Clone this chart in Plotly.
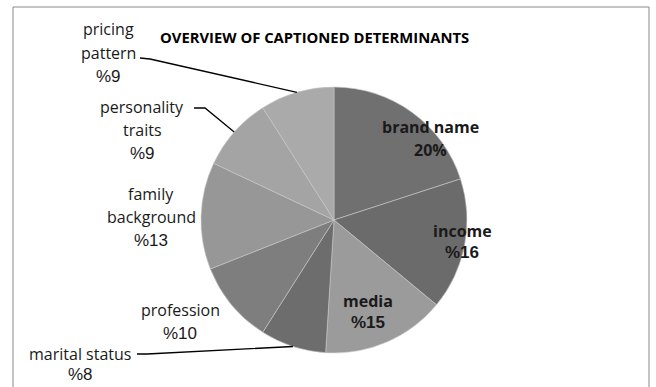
import math
import plotly.graph_objects as go

# ---- data -------------------------------------------------------------
categories = ["brand name", "income", "media", "marital status", "profession",
              "family background", "personality traits", "pricing pattern"]
shares = [20, 16, 15, 8, 10, 13, 9, 9]
# how each category name is wrapped on its label
label_lines = [["brand name"], ["income"], ["media"], ["marital status"], ["profession"],
               ["family", "background"], ["personality", "traits"], ["pricing", "pattern"]]
# the first label writes the percent sign after the number, the rest before it
percent_after = [True, False, False, False, False, False, False, False]
slice_colors = ["#707070", "#6b6b6b", "#9b9b9b", "#6d6d6d", "#7e7e7e",
                "#979797", "#a4a4a4", "#aaaaaa"]
title_text = "OVERVIEW OF CAPTIONED DETERMINANTS"

# ---- geometry (pixels, y pointing down) --------------------------------
W, H = 656, 387
PIE_CX, PIE_CY, PIE_R = 334, 220, 133

# label anchor: centre of first line, line step, bold/inside, leader path start
label_style = {
    "brand name":         dict(x=430, y=127, step=23, bold=True),
    "income":             dict(x=462, y=231, step=21, bold=True),
    "media":              dict(x=368, y=301, step=21, bold=True),
    "marital status":     dict(x=80, y=354, step=20, bold=False, lead=[(137, 354), (147, 354)]),
    "profession":         dict(x=180, y=310, step=23, bold=False),
    "family background":  dict(x=151, y=194, step=23, bold=False),
    "personality traits": dict(x=142, y=107, step=23, bold=False, lead=[(194, 108), (205, 108)]),
    "pricing pattern":    dict(x=108, y=29, step=23.5, bold=False, lead=[(140, 58), (150, 59)]),
}

LABEL_FONT = "Open Sans"
NUMBER_FONT = "Liberation Sans"

fig = go.Figure()

fig.add_trace(go.Pie(
    labels=categories,
    values=shares,
    sort=False,
    direction="clockwise",
    rotation=0,
    textinfo="none",
    hoverinfo="label+percent",
    marker=dict(colors=slice_colors, line=dict(color="#c8c8c8", width=0.6)),
    showlegend=False,
    domain=dict(x=[(PIE_CX - PIE_R) / W, (PIE_CX + PIE_R) / W],
                y=[(H - PIE_CY - PIE_R) / H, (H - PIE_CY + PIE_R) / H]),
))

total = sum(shares)
cum = 0.0
annotations = []
shapes = []
for name, val, lines, after in zip(categories, shares, label_lines, percent_after):
    st = label_style[name]
    pct = f"{val}%" if after else f"%{val}"
    n = len(lines)
    for i, t in enumerate(lines + [pct]):
        is_pct = i == n and not after
        annotations.append(dict(
            x=st["x"], y=st["y"] + i * st["step"], xref="x", yref="y",
            text=f"<b>{t}</b>" if st["bold"] else t,
            showarrow=False, xanchor="center", yanchor="middle",
            font=dict(family=NUMBER_FONT if is_pct else LABEL_FONT,
                      size=17 if is_pct else 16, color="#1a1a1a"),
        ))
    # leader line to the outer edge at the slice's mid angle
    mid = (cum + val / 2) / total * 2 * math.pi
    cum += val
    if "lead" in st:
        ex = PIE_CX + PIE_R * math.sin(mid)
        ey = PIE_CY - PIE_R * math.cos(mid)
        pts = st["lead"] + [(ex, ey)]
        path = "M " + " L ".join(f"{px:.1f},{py:.1f}" for px, py in pts)
        shapes.append(dict(type="path", path=path, xref="x", yref="y",
                           line=dict(color="#000000", width=1.3)))

# chart frame
shapes.append(dict(type="rect", x0=13, y0=7, x1=649, y1=400, xref="x", yref="y",
                   line=dict(color="#8a8a8a", width=1), layer="below"))

annotations.append(dict(
    x=314, y=37, xref="x", yref="y", text=f"<b>{title_text}</b>",
    showarrow=False, xanchor="center", yanchor="middle",
    font=dict(family=LABEL_FONT, size=14.8, color="#000000"),
))

fig.update_layout(
    width=W, height=H,
    margin=dict(l=0, r=0, t=0, b=0),
    paper_bgcolor="#ffffff", plot_bgcolor="rgba(0,0,0,0)",
    xaxis=dict(range=[0, W], visible=False, domain=[0, 1], fixedrange=True),
    yaxis=dict(range=[H, 0], visible=False, domain=[0, 1], fixedrange=True),
    annotations=annotations,
    shapes=shapes,
)

fig.write_html("out.html")
